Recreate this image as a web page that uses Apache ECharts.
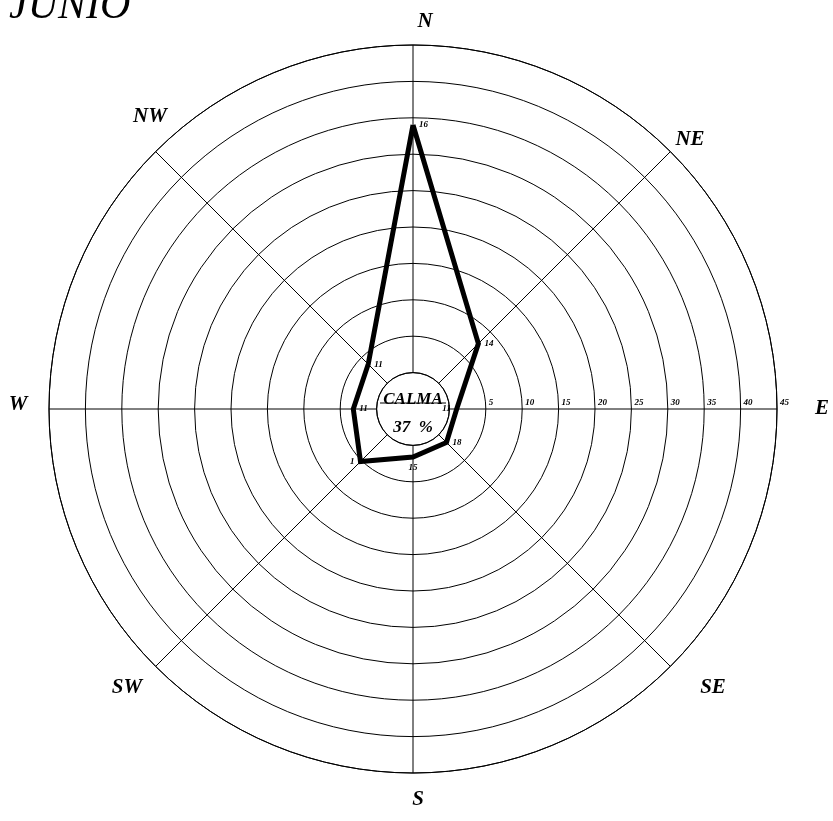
<!DOCTYPE html>
<html><head><meta charset="utf-8">
<script src="https://cdn.jsdelivr.net/npm/echarts@6/dist/echarts.min.js"></script>
<style>html,body{margin:0;padding:0;background:#fff}#c{width:833px;height:821px}</style>
</head><body><div id="c"></div>
<script>
// ---- data ----
const directions = ['N', 'NE', 'E', 'SE', 'S', 'SW', 'W', 'NW'];
const compassAngles = [90, 45, 0, 315, 270, 225, 180, 135];
const frequency = [34, 7.7, 1.0, 1.5, 1.6, 5.2, 3.2, 3.7];
const pointLabels = ['16', '14', '11', '18', '15', '1', '11', '11'];
const ringTicks = [0, 5, 10, 15, 20, 25, 30, 35, 40, 45];
const calmaText = 'CALMA';
const calmaValue = '37  %';
const titleText = 'JUNIO';

// ---- layout ----
const CX = 413, CY = 409, R0 = 36.4, R1 = 364;
const serif = '"Liberation Serif", "DejaVu Serif", serif';
const labelSide = { N: 'right', NE: 'right', E: 'left', SE: 'right', S: 'bottom', SW: 'left', W: 'right', NW: 'right' };
// pixel offsets of compass-name labels from the polar centre
const compassLabelOffset = {
  N: [12, -387], NE: [277, -269], E: [409, 0], SE: [300, 279],
  S: [5, 391], SW: [-286, 279], W: [-395, -4], NW: [-263, -292]
};

const seriesData = frequency.map((v, i) => ({
  value: [v, compassAngles[i]],
  label: { position: labelSide[directions[i]] }
}));
seriesData.push({ value: [frequency[0], compassAngles[0]], label: { show: false } });

const compassGraphics = directions.map(d => ({
  type: 'text', x: CX + compassLabelOffset[d][0], y: CY + compassLabelOffset[d][1],
  style: { text: d, font: 'italic bold 21px ' + serif, fill: '#000', align: 'center', verticalAlign: 'middle' }
}));

const chart = echarts.init(document.getElementById('c'), null, { renderer: 'canvas' });
chart.setOption({
  animation: false,
  backgroundColor: '#fff',
  polar: { center: [CX, CY], radius: [R0, R1] },
  angleAxis: {
    type: 'value', min: 0, max: 360, interval: 45,
    startAngle: 0, clockwise: false,
    axisLine: { show: true, lineStyle: { color: '#000', width: 1 } },
    axisTick: { show: false },
    splitLine: { show: true, lineStyle: { color: '#000', width: 1 } },
    axisLabel: { show: false }
  },
  radiusAxis: {
    type: 'value', min: ringTicks[0], max: ringTicks[ringTicks.length - 1], interval: 5,
    axisLine: { show: false }, axisTick: { show: false },
    splitLine: { show: true, lineStyle: { color: '#000', width: 1 } },
    axisLabel: {
      color: '#000', fontFamily: serif, fontStyle: 'italic', fontWeight: 'bold', fontSize: 9,
      align: 'left', margin: 2, padding: [0, 0, 0, 3],
      formatter: v => (v === 0 ? '' : String(v))
    }
  },
  series: [{
    type: 'line', coordinateSystem: 'polar',
    data: seriesData,
    showSymbol: true, symbol: 'circle', symbolSize: 0,
    lineStyle: { color: '#000', width: 5, join: 'miter' },
    itemStyle: { color: '#000' },
    label: {
      show: true, distance: 6,
      color: '#000', fontFamily: serif, fontStyle: 'italic', fontWeight: 'bold', fontSize: 9,
      formatter: p => (p.dataIndex < pointLabels.length ? pointLabels[p.dataIndex] : '')
    },
    z: 5
  }],
  graphic: compassGraphics.concat([
    { type: 'text', left: 9, top: -14, style: { text: titleText, font: 'italic 42px ' + serif, fill: '#000' } },
    { type: 'text', x: CX, y: CY - 1, style: { text: calmaText, font: 'italic bold 17px ' + serif, fill: '#000', align: 'center', verticalAlign: 'bottom' } },
    { type: 'line', shape: { x1: CX - 33, y1: CY - 6, x2: CX + 33, y2: CY - 6 }, style: { stroke: '#000', lineWidth: 1 } },
    { type: 'text', x: CX, y: CY + 10, style: { text: calmaValue, font: 'italic bold 17px ' + serif, fill: '#000', align: 'center', verticalAlign: 'top' } }
  ])
});
</script></body></html>
